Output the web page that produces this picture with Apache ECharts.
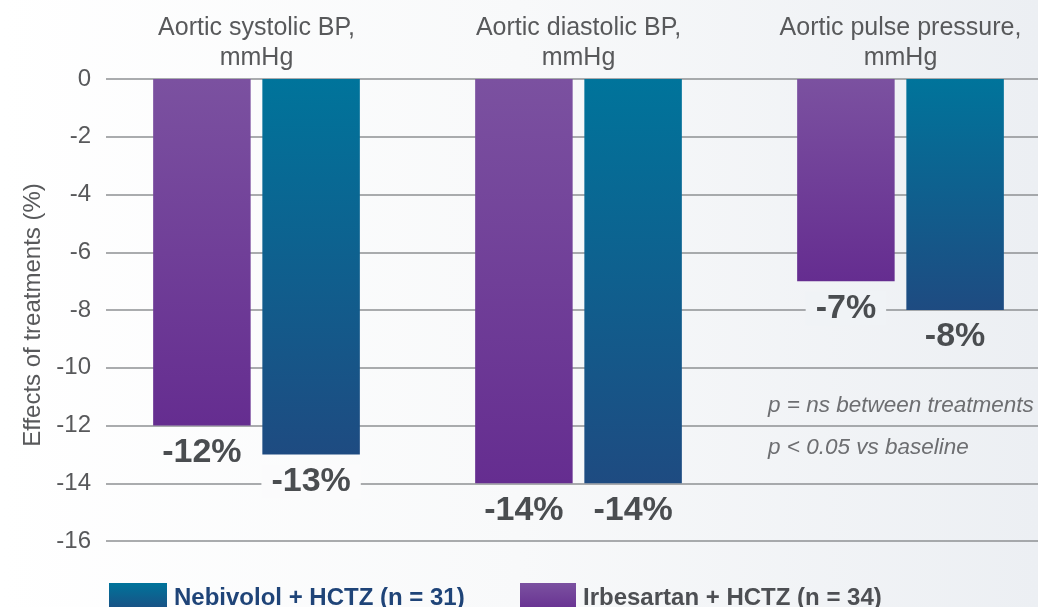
<!DOCTYPE html>
<html>
<head>
<meta charset="utf-8">
<script src="https://cdn.jsdelivr.net/npm/echarts@6/dist/echarts.min.js"></script>
<style>html,body{margin:0;padding:0;}#c{width:1038px;height:607px;}</style>
</head>
<body>
<div id="c"></div>
<script>
const categories = ['Aortic systolic BP,\nmmHg', 'Aortic diastolic BP,\nmmHg', 'Aortic pulse pressure,\nmmHg'];
const irbesartan = [-12, -14, -7];
const nebivolol = [-13, -14, -8];
const irbLabels = ['-12%', '-14%', '-7%'];
const nebLabels = ['-13%', '-14%', '-8%'];
const yTicks = [0, -2, -4, -6, -8, -10, -12, -14, -16];
const nameIrb = 'Irbesartan + HCTZ (n = 34)';
const nameNeb = 'Nebivolol + HCTZ (n = 31)';
const notes = ['p = ns between treatments', 'p < 0.05 vs baseline'];

const chart = echarts.init(document.getElementById('c'));
const purple = new echarts.graphic.LinearGradient(0, 0, 0, 1, [{offset: 0, color: '#7b51a0'}, {offset: 1, color: '#652d90'}]);
const blue = new echarts.graphic.LinearGradient(0, 0, 0, 1, [{offset: 0, color: '#00749b'}, {offset: 1, color: '#1e4b81'}]);
const FONT = '"Liberation Sans", Arial, sans-serif';

const bgStops = [[0, [255, 255, 255]], [0.5, [248, 249, 250]], [1, [236, 239, 243]]];
function hex(c) { return '#' + c.map(v => Math.round(v).toString(16).padStart(2, '0')).join(''); }
function bgAt(x) {
  const t = x / 1038;
  for (let k = 0; k < bgStops.length - 1; k++) {
    const [t0, a] = bgStops[k], [t1, b] = bgStops[k + 1];
    if (t <= t1) {
      const f = (t - t0) / (t1 - t0);
      return hex(a.map((v, i) => v + (b[i] - v) * f));
    }
  }
  return hex(bgStops[bgStops.length - 1][1]);
}
// label boxes that must mask a grid line behind them (x centre of the bar, or null)
const maskX = [[null, null, 845], [310, null, null]];

function mk(vals, labels, idx) {
  return vals.map((v, i) => ({
    value: v,
    label: {formatter: labels[i], backgroundColor: maskX[idx][i] ? bgAt(maskX[idx][i]) : 'transparent'}
  }));
}

chart.setOption({
  backgroundColor: new echarts.graphic.LinearGradient(0, 0, 1, 0, bgStops.map(s => ({offset: s[0], color: hex(s[1])}))),
  textStyle: {fontFamily: FONT},
  animation: false,
  grid: [
    {left: 95.5, top: 79, width: 966, height: 462, outerBoundsMode: 'none', containLabel: false},
    {left: 106, top: 79, right: 0, height: 462}
  ],
  xAxis: [
    {type: 'category', gridIndex: 0, position: 'top', data: categories,
     axisLine: {show: false}, axisTick: {show: false},
     axisLabel: {fontSize: 25, color: '#58595b', lineHeight: 30, margin: 6, fontFamily: FONT}},
    {type: 'value', gridIndex: 1, show: false, min: 0, max: 1}
  ],
  yAxis: [
    {type: 'value', gridIndex: 0, min: -16, max: 0, interval: 2, show: false},
    {type: 'value', gridIndex: 1, min: -16, max: 0, interval: 2,
     axisLine: {show: false}, axisTick: {show: false},
     splitLine: {lineStyle: {color: '#8e9093', width: 1.5}},
     axisLabel: {fontSize: 24, color: '#58595b', margin: 15, fontFamily: FONT,
       formatter: v => yTicks.includes(v) ? String(v) : ''},
     name: 'Effects of treatments (%)', nameLocation: 'middle', nameGap: 60, nameRotate: 90,
     nameTextStyle: {fontSize: 24, color: '#58595b', fontFamily: FONT, padding: [0, 10, 0, 0]}}
  ],
  legend: [
    {left: 104, top: 578, itemWidth: 58, itemHeight: 30, itemGap: 0, icon: 'rect',
     data: [nameNeb], selectedMode: false,
     textStyle: {fontSize: 24, fontWeight: 'bold', color: '#1f4478', padding: [0, 0, 0, 2], fontFamily: FONT}},
    {left: 515, top: 578, itemWidth: 56, itemHeight: 30, itemGap: 0, icon: 'rect',
     data: [nameIrb], selectedMode: false,
     textStyle: {fontSize: 24, fontWeight: 'bold', color: '#4d4f53', padding: [0, 0, 0, 2], fontFamily: FONT}}
  ],
  series: [
    {name: nameIrb, type: 'bar', xAxisIndex: 0, yAxisIndex: 0, data: mk(irbesartan, irbLabels, 0),
     barWidth: 97.5, barGap: '12%', itemStyle: {color: purple},
     label: {show: true, position: 'bottom', distance: 10, fontSize: 34, fontWeight: 'bold', color: '#4a4d50', padding: [0, 10], fontFamily: FONT}},
    {name: nameNeb, type: 'bar', xAxisIndex: 0, yAxisIndex: 0, data: mk(nebivolol, nebLabels, 1),
     barWidth: 97.5, barGap: '12%', itemStyle: {color: blue},
     label: {show: true, position: 'bottom', distance: 10, fontSize: 34, fontWeight: 'bold', color: '#4a4d50', padding: [0, 10], fontFamily: FONT}}
  ],
  graphic: [
    {type: 'text', left: 768, top: 394, style: {text: notes[0], fontSize: 22.5, fontStyle: 'italic', fill: '#6d6e71', fontFamily: FONT}},
    {type: 'text', left: 768, top: 436, style: {text: notes[1], fontSize: 22.5, fontStyle: 'italic', fill: '#6d6e71', fontFamily: FONT}}
  ]
});
</script>
</body>
</html>
